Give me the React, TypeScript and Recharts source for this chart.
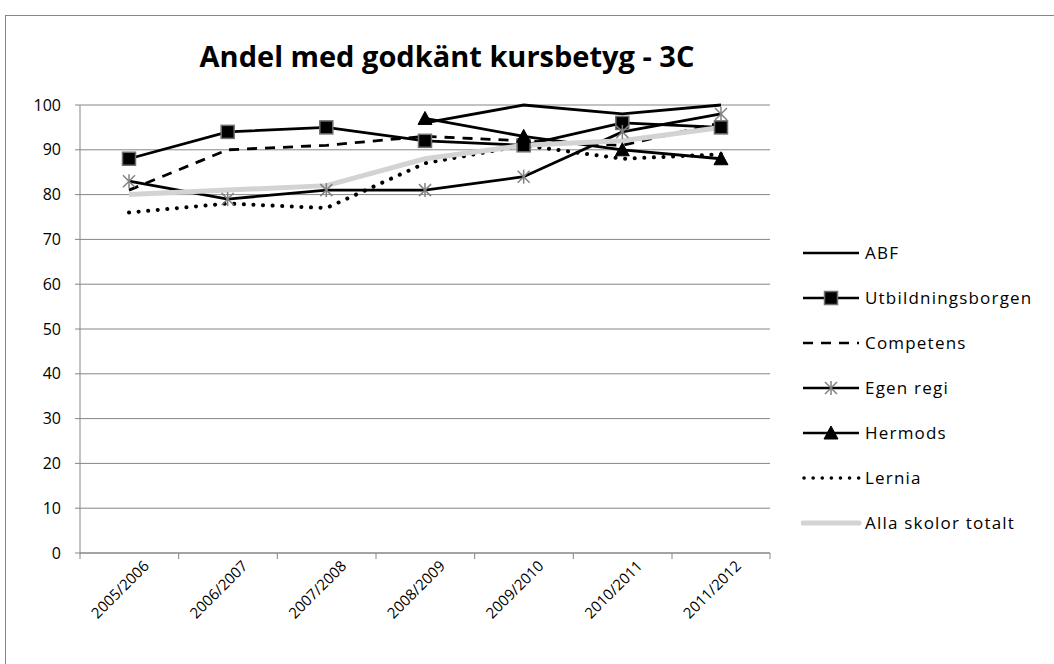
import React from "react";
import { CartesianGrid, Line, LineChart, XAxis, YAxis } from "recharts";

const years = ["2005/2006", "2006/2007", "2007/2008", "2008/2009", "2009/2010", "2010/2011", "2011/2012"];

const abf = [null, null, null, 96, 100, 98, 100];
const utbildningsborgen = [88, 94, 95, 92, 91, 96, 95];
const competens = [81, 90, 91, 93, 92, 91, 96];
const egenRegi = [83, 79, 81, 81, 84, 94, 98];
const hermods = [null, null, null, 97, 93, 90, 88];
const lernia = [76, 78, 77, 87, 91, 88, 89];
const allaSkolor = [80, 81, 82, 88, 91, 92, 95];

const yTicks = [0, 10, 20, 30, 40, 50, 60, 70, 80, 90, 100];

const data = years.map((year, i) => ({
  year,
  abf: abf[i],
  utb: utbildningsborgen[i],
  competens: competens[i],
  egen: egenRegi[i],
  hermods: hermods[i],
  lernia: lernia[i],
  alla: allaSkolor[i],
}));

const FONT = "'Open Sans', sans-serif";
const GRID = "#868686";
const HALF_BAND = 49;

function Square({ cx, cy }: any) {
  if (cx == null || cy == null) return null;
  return <rect x={cx - 6.5} y={cy - 6.5} width={13} height={13} fill="#000" stroke="#6f6f6f" strokeWidth={1.5} />;
}

function Star({ cx, cy }: any) {
  if (cx == null || cy == null) return null;
  const r = 6;
  return (
    <g stroke="#808080" strokeWidth={1.5}>
      <line x1={cx - r} y1={cy - r} x2={cx + r} y2={cy + r} />
      <line x1={cx - r} y1={cy + r} x2={cx + r} y2={cy - r} />
      <line x1={cx} y1={cy - r - 1} x2={cx} y2={cy + r + 1} />
    </g>
  );
}

function Triangle({ cx, cy }: any) {
  if (cx == null || cy == null) return null;
  return <polygon points={`${cx},${cy - 7} ${cx + 7},${cy + 6} ${cx - 7},${cy + 6}`} fill="#000" stroke="#000" />;
}

function XTick({ x, y, payload, index, visibleTicksCount }: any) {
  return (
    <g>
      <line x1={x - HALF_BAND} y1={y} x2={x - HALF_BAND} y2={y + 6} stroke={GRID} />
      {index === visibleTicksCount - 1 && (
        <line x1={x + HALF_BAND} y1={y} x2={x + HALF_BAND} y2={y + 6} stroke={GRID} />
      )}
      <text
        x={x + 21}
        y={y + 14}
        textAnchor="end"
        transform={`rotate(-45 ${x + 21} ${y + 14})`}
        fontFamily={FONT}
        fontSize={15}
        fill="#000"
      >
        {payload.value}
      </text>
    </g>
  );
}

const legendItems = [
  { name: "ABF", kind: "solid" },
  { name: "Utbildningsborgen", kind: "square" },
  { name: "Competens", kind: "dash" },
  { name: "Egen regi", kind: "star" },
  { name: "Hermods", kind: "triangle" },
  { name: "Lernia", kind: "dot" },
  { name: "Alla skolor totalt", kind: "grey" },
];

function Swatch({ kind }: { kind: string }) {
  const y = 10;
  let line = <line x1={2} y1={y} x2={58} y2={y} stroke="#000" strokeWidth={2.5} />;
  if (kind === "dash") line = <line x1={2} y1={y} x2={58} y2={y} stroke="#000" strokeWidth={2.5} strokeDasharray="10 8" />;
  if (kind === "dot")
    line = <line x1={3} y1={y} x2={58} y2={y} stroke="#000" strokeWidth={3.5} strokeDasharray="0.1 9" strokeLinecap="round" />;
  if (kind === "grey") line = <line x1={2} y1={y} x2={58} y2={y} stroke="#d3d3d3" strokeWidth={5} strokeLinecap="round" />;
  return (
    <svg width={62} height={20} style={{ display: "block" }}>
      {line}
      {kind === "square" && <Square cx={30} cy={y} />}
      {kind === "star" && <Star cx={30} cy={y} />}
      {kind === "triangle" && <Triangle cx={30} cy={y} />}
    </svg>
  );
}

function LegendBox() {
  return (
    <div style={{ fontFamily: FONT, fontSize: 17, letterSpacing: 1.2, color: "#000" }}>
      {legendItems.map((it) => (
        <div key={it.name} style={{ display: "flex", alignItems: "center", height: 45 }}>
          <Swatch kind={it.kind} />
          <span style={{ marginLeft: 2, whiteSpace: "nowrap" }}>{it.name}</span>
        </div>
      ))}
    </div>
  );
}

export default function App() {
  return (
    <div style={{ position: "absolute", left: 0, top: 0, width: 1054, height: 664, background: "#fff", overflow: "hidden" }}>
      <div style={{ position: "absolute", left: 5, top: 15, width: 1060, height: 700, border: `1px solid ${GRID}` }} />
      <div
        style={{
          position: "absolute",
          left: 0,
          top: 36,
          width: 894,
          textAlign: "center",
          fontFamily: FONT,
          fontWeight: 700,
          fontSize: 29,
        }}
      >
        Andel med godkänt kursbetyg - 3C
      </div>
      <div style={{ position: "absolute", left: 0, top: 0 }}>
        <LineChart width={1054} height={664} data={data} margin={{ top: 105, right: 284, bottom: 0, left: 0 }}>
          <CartesianGrid vertical={false} stroke={GRID} strokeWidth={1} />
          <XAxis
            dataKey="year"
            height={111}
            padding={{ left: HALF_BAND, right: HALF_BAND }}
            axisLine={{ stroke: GRID }}
            tickLine={false}
            tickSize={0}
            tickMargin={0}
            interval={0}
            tick={<XTick />}
          />
          <YAxis
            width={80}
            domain={[0, 100]}
            ticks={yTicks}
            axisLine={{ stroke: GRID }}
            tickLine={{ stroke: GRID }}
            tickSize={5}
            tickMargin={14}
            tick={{ fontFamily: FONT, fontSize: 16, fill: "#000" }}
          />
          <Line dataKey="abf" name="ABF" stroke="#000" strokeWidth={2.8} dot={false} isAnimationActive={false} />
          <Line dataKey="utb" name="Utbildningsborgen" stroke="#000" strokeWidth={2.8} dot={<Square />} isAnimationActive={false} />
          <Line dataKey="competens" name="Competens" stroke="#000" strokeWidth={2.8} strokeDasharray="10 8" dot={false} isAnimationActive={false} />
          <Line dataKey="egen" name="Egen regi" stroke="#000" strokeWidth={2.8} dot={<Star />} isAnimationActive={false} />
          <Line dataKey="hermods" name="Hermods" stroke="#000" strokeWidth={2.8} dot={<Triangle />} isAnimationActive={false} />
          <Line
            dataKey="lernia"
            name="Lernia"
            stroke="#000"
            strokeWidth={4}
            strokeDasharray="0.1 9.5"
            strokeLinecap="round"
            dot={false}
            isAnimationActive={false}
          />
          <Line dataKey="alla" name="Alla skolor totalt" stroke="#d3d3d3" strokeWidth={5} dot={false} isAnimationActive={false} />
        </LineChart>
      </div>
      <div style={{ position: "absolute", left: 801, top: 230 }}>
        <LegendBox />
      </div>
    </div>
  );
}
